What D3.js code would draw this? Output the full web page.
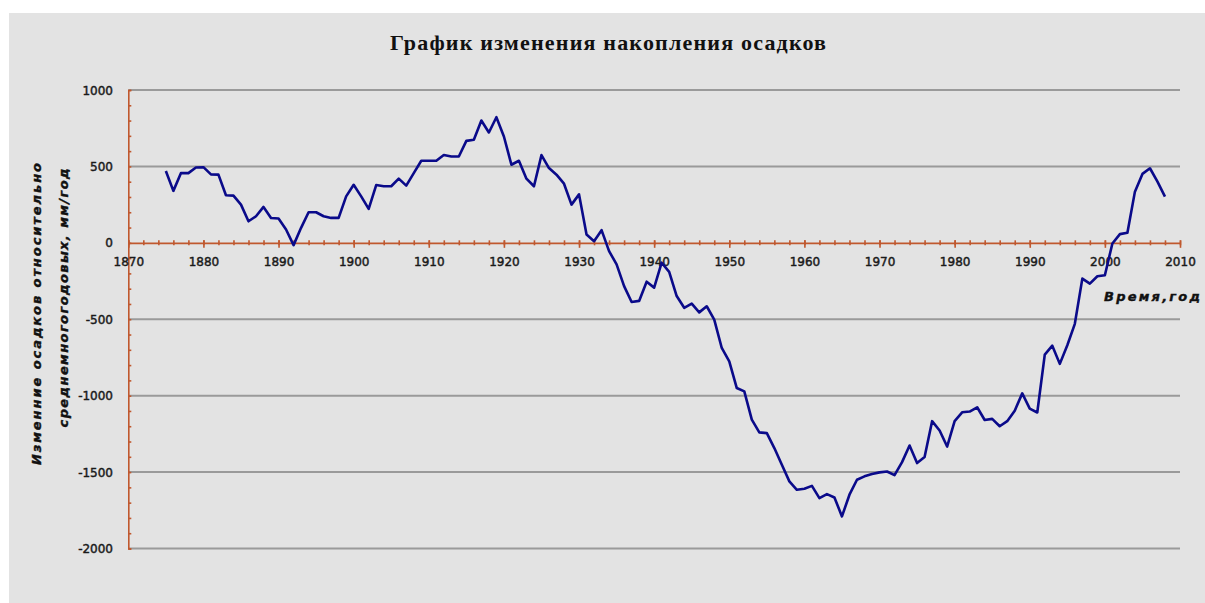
<!DOCTYPE html>
<html>
<head>
<meta charset="utf-8">
<script src="https://cdn.jsdelivr.net/npm/d3@7"></script>
<style>
html,body{margin:0;padding:0;background:#fff;}
svg{display:block;}
</style>
</head>
<body>
<svg id="chart" width="1205" height="603"></svg>
<script>
// ---- data ----
const startYear = 1875;
const values = [
 470, 340, 456, 456, 493, 495, 448, 446, 311, 309,   // 1875-1884
 250, 141, 174, 235, 163, 159, 87, -15, 98, 200,     // 1885-1894
 200, 174, 163, 163, 304, 380, 304, 222, 378, 370,   // 1895-1904
 370, 420, 374, 456, 537, 537, 537, 575, 565, 565,   // 1905-1914
 667, 674, 800, 722, 822, 696, 511, 537, 420, 370,   // 1915-1924
 574, 489, 446, 387, 250, 317, 54, 11, 83, -54,      // 1925-1934
 -141, -283, -387, -380, -254, -293, -130, -190, -348, -425, // 1935-1944
 -398, -455, -415, -502, -688, -775, -950, -972, -1157, -1240, // 1945-1954
 -1245, -1343, -1452, -1561, -1616, -1609, -1590, -1670, -1644, -1666, // 1955-1964
 -1790, -1648, -1550, -1528, -1513, -1502, -1496, -1520, -1435, -1326, // 1965-1974
 -1441, -1402, -1167, -1228, -1333, -1167, -1109, -1104, -1076, -1159, // 1975-1984
 -1152, -1200, -1167, -1098, -985, -1085, -1110, -732, -673, -792,     // 1985-1994
 -670, -530, -234, -267, -219, -212, -4, 57, 66, 335,                  // 1995-2004
 451, 488, 400, 302                                                    // 2005-2008
];
const years = d3.range(startYear, startYear + values.length);
const xTicks = [1870, 1880, 1890, 1900, 1910, 1920, 1930, 1940, 1950, 1960, 1970, 1980, 1990, 2000, 2010];
const yTicks = [1000, 500, 0, -500, -1000, -1500, -2000];
const titleText = "График изменения накопления осадков";
const yTitleLines = ["Изменние осадков относительно", "среднемногогодовых, мм/год"];
const xTitleText = "Время,год";

// ---- drawing ----
const svg = d3.select("#chart");
const axisColor = "#c0582e";
const gridColor = "#9a9a9a";
const lineColor = "#0a0a8a";

svg.append("rect").attr("x", 9).attr("y", 13).attr("width", 1196).attr("height", 590).attr("fill", "#e3e3e3");

const x = d3.scaleLinear().domain([1870, 2010]).range([128.3, 1180]);
const y = d3.scaleLinear().domain([-2000, 1000]).range([548.5, 90]);

// title
svg.append("text")
  .attr("x", 608).attr("y", 50)
  .attr("text-anchor", "middle")
  .attr("font-family", "Liberation Serif, serif")
  .attr("font-weight", "bold")
  .attr("font-size", 22)
  .attr("fill", "#111")
  .attr("textLength", 436).attr("lengthAdjust", "spacing")
  .text(titleText);

// gridlines
svg.append("g").selectAll("line")
  .data(yTicks.filter(d => d !== 0))
  .join("line")
  .attr("x1", x(1870)).attr("x2", x(2010))
  .attr("y1", d => y(d)).attr("y2", d => y(d))
  .attr("stroke", gridColor).attr("stroke-width", 2);

// y axis (ticks inward)
const yAxis = d3.axisRight(y)
  .tickValues(d3.range(-2000, 1001, 100))
  .tickSize(3)
  .tickFormat("");
const gy = svg.append("g").attr("transform", `translate(${x(1870)},0)`).call(yAxis);
gy.select(".domain").attr("stroke", axisColor).attr("stroke-width", 1.6);
gy.selectAll(".tick line").attr("stroke", axisColor).attr("stroke-width", 1.6);

// y labels
svg.append("g").selectAll("text")
  .data(yTicks)
  .join("text")
  .attr("x", 113).attr("y", d => y(d) + 4.5)
  .attr("text-anchor", "end")
  .attr("font-family", "DejaVu Sans, sans-serif")
  .attr("font-size", 12)
  .attr("fill", "#1a1a1a")
  .attr("stroke", "#1a1a1a").attr("stroke-width", 0.45)
  .text(d => d);

// x axis at y=0
const xMinor = d3.axisBottom(x)
  .tickValues(d3.range(1870, 2011, 2))
  .tickSize(2.5)
  .tickSizeOuter(0)
  .tickFormat("");
const gx = svg.append("g").attr("transform", `translate(0,${y(0)})`).call(xMinor);
gx.select(".domain").attr("stroke", axisColor).attr("stroke-width", 1.6);
gx.selectAll(".tick line").attr("stroke", axisColor).attr("stroke-width", 1.6).attr("y1", -2.5);

const xMajor = d3.axisBottom(x)
  .tickValues(xTicks)
  .tickSize(5)
  .tickSizeOuter(0)
  .tickPadding(10)
  .tickFormat(d3.format("d"));
const gx2 = svg.append("g").attr("transform", `translate(0,${y(0)})`).call(xMajor);
gx2.select(".domain").remove();
gx2.selectAll(".tick line").attr("stroke", axisColor).attr("stroke-width", 1.6).attr("y1", -2.5);
gx2.selectAll(".tick text")
  .attr("font-family", "DejaVu Sans, sans-serif")
  .attr("font-size", 12)
  .attr("fill", "#1a1a1a")
  .attr("stroke", "#1a1a1a").attr("stroke-width", 0.45);

// data line
const line = d3.line()
  .x((d, i) => x(years[i]))
  .y(d => y(d));
svg.append("path")
  .datum(values)
  .attr("d", line)
  .attr("fill", "none")
  .attr("stroke", lineColor)
  .attr("stroke-width", 2.6)
  .attr("stroke-linejoin", "round");

// y axis title (two rotated lines)
const yTitlePos = [{cx: 36, cy: 314, len: 302}, {cx: 63, cy: 298, len: 259}];
yTitleLines.forEach((t, i) => {
  const p = yTitlePos[i];
  svg.append("text")
    .attr("transform", `translate(${p.cx},${p.cy}) rotate(-90)`)
    .attr("text-anchor", "middle")
    .attr("dominant-baseline", "central")
    .attr("font-family", "DejaVu Sans, sans-serif")
    .attr("font-weight", "bold")
    .attr("font-style", "italic")
    .attr("font-size", 13)
    .attr("fill", "#111")
    .attr("stroke", "#111").attr("stroke-width", 0.4)
    .attr("textLength", p.len).attr("lengthAdjust", "spacing")
    .text(t);
});

// x axis title
svg.append("text")
  .attr("x", 1104).attr("y", 301)
  .attr("font-family", "DejaVu Sans, sans-serif")
  .attr("font-weight", "bold")
  .attr("font-style", "italic")
  .attr("font-size", 13)
  .attr("fill", "#111")
  .attr("stroke", "#111").attr("stroke-width", 0.4)
  .attr("textLength", 96).attr("lengthAdjust", "spacing")
  .text(xTitleText);
</script>
</body>
</html>
